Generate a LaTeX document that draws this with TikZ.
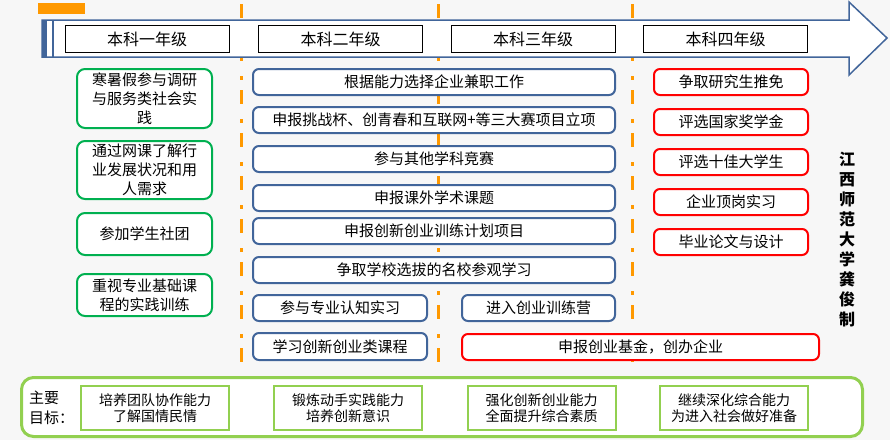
\documentclass[tikz,border=0pt]{standalone}
\usepackage{fontspec}
\setmainfont{Noto Sans CJK SC}
\usepackage{tikz}
\usetikzlibrary{positioning}
\definecolor{PlanBlue}{HTML}{41659A}
\definecolor{PlanGreen}{HTML}{00B050}
\definecolor{PlanLime}{HTML}{92D050}
\definecolor{PlanRed}{HTML}{FF0000}
\definecolor{PlanOrange}{HTML}{FF9900}
\definecolor{PlanBack}{HTML}{F7F7F7}

\begin{document}
\begin{tikzpicture}[
  x=1pt,y=-1pt,
  node distance=11pt,
  yearbox/.style={draw=black,line width=1pt,fill=white,minimum width=164pt,minimum height=27pt,inner sep=0pt,font=\fontsize{16}{18}\selectfont},
  greenbox/.style={rounded corners=8pt,draw=PlanGreen,line width=2pt,fill=white,minimum width=135pt,align=center,inner sep=0pt,font=\fontsize{15}{19}\selectfont},
  bluebox/.style={rounded corners=6pt,draw=PlanBlue,line width=2pt,fill=white,minimum width=362pt,minimum height=26pt,inner sep=0pt,font=\fontsize{15}{18}\selectfont},
  redbox/.style={rounded corners=6pt,draw=PlanRed,line width=2pt,fill=white,minimum width=154pt,minimum height=26pt,inner sep=0pt,font=\fontsize{15}{18}\selectfont},
  goalbox/.style={draw=PlanLime,line width=2pt,fill=white,minimum width=148pt,minimum height=44pt,align=center,inner sep=0pt,font=\fontsize{14}{16}\selectfont},
  gradeline/.style={draw=PlanOrange,line width=3pt,dash pattern=on 14pt off 15pt on 4pt off 10pt}
]
\useasboundingbox[fill=PlanBack] (0,0) rectangle (890,440);
% year separators
\draw[gradeline] (241,4)--(241,376);
\draw[gradeline] (438,4)--(438,376);
\draw[gradeline] (632,4)--(632,376);
% timeline arrow
\fill[PlanOrange] (38,3) rectangle (85,14);
\draw[draw=PlanBlue,line width=1.5pt,fill=white]
  (42,20)--(849,20)--(849,2)--(887,38)--(849,75)--(849,57)--(42,57)--cycle;
\fill[PlanBlue] (42,20) rectangle (47,57);
\draw[PlanBlue,line width=1.5pt] (53,20)--(53,57);
\node[yearbox] (y1) at (147,39) {本科一年级};
\node[yearbox] (y2) at (340.5,39) {本科二年级};
\node[yearbox] (y3) at (533,39) {本科三年级};
\node[yearbox] (y4) at (725.5,39) {本科四年级};
% first year
\node[greenbox,minimum height=59pt] (g1) at (144.5,98.5) {寒暑假参与调研\\与服务类社会实\\践};
\node[greenbox,minimum height=58pt] (g2) at (144.5,170) {通过网课了解行\\业发展状况和用\\人需求};
\node[greenbox,minimum height=42pt] (g3) at (144.5,234) {参加学生社团};
\node[greenbox,minimum height=42pt] (g4) at (144.5,295) {重视专业基础课\\程的实践训练};
% second and third year
\node[bluebox] (b1) at (434,82) {根据能力选择企业兼职工作};
\node[bluebox,below=10pt of b1] (b2) {申报挑战杯、创青春和互联网+等三大赛项目立项};
\node[bluebox,below=of b2] (b3) {参与其他学科竞赛};
\node[bluebox,below=of b3] (b4) {申报课外学术课题};
\node[bluebox,below=5pt of b4] (b5) {申报创新创业训练计划项目};
\node[bluebox,below=of b5] (b6) {争取学校选拔的名校参观学习};
\node[bluebox,minimum width=174pt] (b7) at (340,308) {参与专业认知实习};
\node[bluebox,minimum width=174pt,minimum height=27pt] (b8) at (340,346.5) {学习创新创业类课程};
\node[bluebox,minimum width=153pt] (b9) at (538.5,308) {进入创业训练营};
% fourth year
\node[redbox] (r1) at (731,82) {争取研究生推免};
\node[redbox,below=12pt of r1] (r2) {评选国家奖学金};
\node[redbox,below=12pt of r2] (r3) {评选十佳大学生};
\node[redbox,below=12pt of r3] (r4) {企业顶岗实习};
\node[redbox,below=12pt of r4] (r5) {毕业论文与设计};
\node[redbox,minimum width=357pt] (r6) at (640.5,347) {申报创业基金，创办企业};
\node[align=center,font=\fontsize{16}{20}\selectfont\bfseries] (sign) at (847,240)
  {江\\西\\师\\范\\大\\学\\龚\\俊\\制};
% goals
\node[draw=PlanLime,line width=3pt,fill=white,rounded corners=12pt,minimum width=841pt,minimum height=59pt] (goals) at (442,407) {};
\node[anchor=west,align=left,inner sep=0pt,font=\fontsize{15}{20}\selectfont] (aim) at (29,408) {主要\\目标：};
\node[goalbox] (a1) at (155,408) {培养团队协作能力\\了解国情民情};
\node[goalbox] (a2) at (348,408) {锻炼动手实践能力\\培养创新意识};
\node[goalbox] (a3) at (541.5,408) {强化创新创业能力\\全面提升综合素质};
\node[goalbox] (a4) at (734,408) {继续深化综合能力\\为进入社会做好准备};
\end{tikzpicture}
\end{document}
